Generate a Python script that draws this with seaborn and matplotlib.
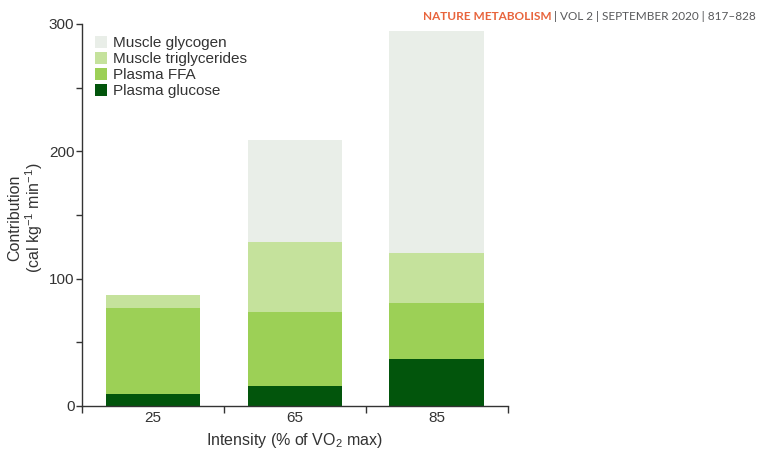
import matplotlib
matplotlib.use("Agg")
import matplotlib.pyplot as plt
from matplotlib.patches import Patch
import numpy as np
import pandas as pd
import seaborn as sns

# Substrate contribution to energy expenditure at three exercise intensities
intensity = ["25", "65", "85"]
plasma_glucose = [9, 16, 37]
plasma_ffa = [68, 58, 44]
muscle_triglycerides = [10, 55, 39]
muscle_glycogen = [0, 80, 174]

series_names = ["Muscle glycogen", "Muscle triglycerides", "Plasma FFA", "Plasma glucose"]
series_colors = ["#e9eee8", "#c5e29c", "#9cd056", "#02550c"]

sns.set_theme(style="ticks")
plt.rcParams["font.family"] = ["Liberation Sans", "DejaVu Sans"]
plt.rcParams["mathtext.fontset"] = "custom"
plt.rcParams["mathtext.rm"] = "Liberation Sans"
plt.rcParams["mathtext.it"] = "Liberation Sans:italic"
plt.rcParams["mathtext.bf"] = "Liberation Sans:bold"

ink = "#333333"

# cumulative tops of each stacked segment (bottom to top)
layers = [plasma_glucose, plasma_ffa, muscle_triglycerides, muscle_glycogen]
tops = np.cumsum(np.array(layers, dtype=float), axis=0)
df = pd.DataFrame({
    "Intensity": intensity,
    "Plasma glucose": tops[0],
    "Plasma FFA": tops[1],
    "Muscle triglycerides": tops[2],
    "Muscle glycogen": tops[3],
})

fig = plt.figure(figsize=(7.6, 4.5), dpi=100)
ax = fig.add_axes([0.108, 0.098, 0.560, 0.849])

# paint from the tallest cumulative layer down so lower segments sit on top
for name, color in zip(series_names, series_colors):
    sns.barplot(data=df, x="Intensity", y=name, color=color, saturation=1,
                width=0.667, linewidth=0, ax=ax)

ax.set_xlim(-0.5, 2.5)
ax.set_ylim(0, 300)

# y ticks every 50, labelled every 100
ax.set_yticks([0, 100, 200, 300])
ax.set_yticks([50, 150, 250], minor=True)
ax.tick_params(axis="y", which="both", length=4, width=1, color=ink,
               labelsize=11, labelcolor=ink, pad=1.5)

# x tick marks at the category boundaries, labels at bar centres
ax.set_xticks([-0.5, 0.5, 1.5, 2.5])
ax.set_xticklabels([])
ax.set_xticks([0, 1, 2], minor=True)
ax.set_xticklabels(intensity, minor=True)
ax.tick_params(axis="x", which="major", length=5, width=1, color=ink)
ax.tick_params(axis="x", which="minor", length=0, labelsize=11,
               labelcolor=ink, pad=4)

for side in ("top", "right"):
    ax.spines[side].set_visible(False)
for side in ("left", "bottom"):
    ax.spines[side].set_color(ink)
    ax.spines[side].set_linewidth(1)

ax.set_xlabel(r"Intensity (% of VO$_\mathregular{2}$ max)", fontsize=11.5,
              color=ink, labelpad=4)
ax.set_ylabel("")

# two-line y-axis title, set as separate rotated lines
ymid = 1 - 218 / 450
fig.text(15 / 760, ymid, "Contribution", rotation=90, ha="center", va="center",
         fontsize=11.5, color=ink)
fig.text(34 / 760, ymid, r"(cal kg$^\mathregular{-1}$ min$^\mathregular{-1}$)",
         rotation=90, ha="center", va="center", fontsize=11.5, color=ink)

handles = [Patch(facecolor=c, edgecolor="none") for c in series_colors]
fig.legend(handles, series_names, loc="upper left",
           bbox_to_anchor=(95 / 760, 1 - 36 / 450), bbox_transform=fig.transFigure,
           frameon=False, fontsize=11, handlelength=0.8, handleheight=0.8,
           handletextpad=0.35, labelspacing=0.12, borderpad=0, borderaxespad=0,
           labelcolor=ink)

# journal running header, right aligned
fig.canvas.draw()
renderer = fig.canvas.get_renderer()
tail = fig.text(756 / 760, 1 - 17 / 450, " | VOL 2 | SEPTEMBER 2020 | 817\u2013828",
                ha="right", va="center", fontsize=8.5, color="#58595b",
                family=["Lato", "DejaVu Sans"])
bb = tail.get_window_extent(renderer=renderer)
fig.text(bb.x0 / fig.bbox.width, 1 - 17 / 450, "NATURE METABOLISM",
         ha="right", va="center", fontsize=8.5, color="#e8643c",
         fontweight="bold", family=["Lato", "DejaVu Sans"])

fig.savefig("out.png", dpi=100)
